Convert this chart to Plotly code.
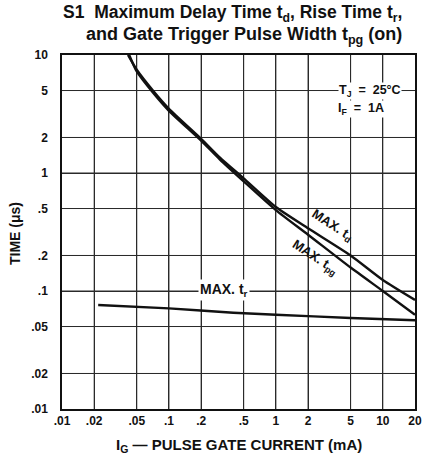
import plotly.graph_objects as go
import math

# ---- data ----
td_current = [0.0414, 0.05, 0.0708, 0.1, 0.2, 0.3, 0.5, 1, 2, 5, 10, 20]
td_time = [10, 7.5, 5, 3.5, 1.95, 1.35, 0.9, 0.515, 0.34, 0.2, 0.124, 0.084]

tpg_current = [0.0425, 0.05, 0.0708, 0.1, 0.2, 0.3, 0.5, 1, 2, 5, 10, 20]
tpg_time = [10, 7.25, 4.8, 3.36, 1.88, 1.3, 0.85, 0.485, 0.3, 0.158, 0.1, 0.063]

tr_current = [0.0218, 0.1, 0.4, 1, 5, 20]
tr_time = [0.076, 0.0713, 0.0655, 0.063, 0.059, 0.0565]

x_ticks = [0.01, 0.02, 0.05, 0.1, 0.2, 0.5, 1, 2, 5, 10, 20]
x_labels = [".01", ".02", ".05", ".1", ".2", ".5", "1", "2", "5", "10", "20"]
y_ticks = [0.01, 0.02, 0.05, 0.1, 0.2, 0.5, 1, 2, 5, 10]
y_labels = [".01", ".02", ".05", ".1", ".2", ".5", "1", "2", "5", "10"]

FONT = "Liberation Sans, Arial, Helvetica, sans-serif"
INK = "#111111"
GRID = "#2a2a2a"

fig = go.Figure()
for xs, ys in [(td_current, td_time), (tpg_current, tpg_time), (tr_current, tr_time)]:
    fig.add_trace(go.Scatter(x=xs, y=ys, mode="lines",
                             line=dict(color=INK, width=2.4, shape="spline", smoothing=0.6),
                             showlegend=False, hoverinfo="skip"))

axis_common = dict(type="log", showgrid=True, gridcolor=GRID, gridwidth=1,
                   showline=True, linecolor=INK, linewidth=1.5, mirror=True,
                   ticks="", ticklen=0, zeroline=False, automargin=False,
                   tickfont=dict(family=FONT, size=12, color=INK))

fig.update_xaxes(range=[-2, math.log10(20)], tickvals=x_ticks,
                 ticktext=["<b>%s</b>" % t for t in x_labels], **axis_common)
fig.update_yaxes(range=[-2, 1], tickvals=y_ticks,
                 ticktext=["<b>%s</b>" % t for t in y_labels], ticklabelstandoff=10, **axis_common)

# grid lines at the tick values
shapes = []
for v in x_ticks[1:-1]:
    shapes.append(dict(type="line", xref="x", yref="paper", x0=v, x1=v, y0=0, y1=1,
                       line=dict(color=GRID, width=1), layer="below"))
for v in y_ticks[1:-1]:
    shapes.append(dict(type="line", xref="paper", yref="y", x0=0, x1=1, y0=v, y1=v,
                       line=dict(color=GRID, width=1), layer="below"))

H = 354.0  # plot height in px, used to place title lines in paper units
ann = []
# title
ann.append(dict(xref="paper", yref="paper", x=0.969, y=1 + (55 - 13) / H, xanchor="right", yanchor="middle",
                showarrow=False,
                text="<b>S1  Maximum Delay Time t<sub>d</sub>, Rise Time t<sub>r</sub>,</b>",
                font=dict(family=FONT, size=17.5, color=INK)))
ann.append(dict(xref="paper", yref="paper", x=0.969, y=1 + (55 - 35) / H, xanchor="right", yanchor="middle",
                showarrow=False,
                text="<b>and Gate Trigger Pulse Width t<sub>pg</sub> (on)</b>",
                font=dict(family=FONT, size=18, color=INK)))
# axis titles
ann.append(dict(xref="paper", yref="paper", x=0.5, y=0, yshift=-36, xanchor="center", yanchor="middle",
                showarrow=False,
                text="<b>I<sub>G</sub> — PULSE GATE CURRENT (mA)</b>",
                font=dict(family=FONT, size=15, color=INK)))
ann.append(dict(xref="paper", yref="paper", x=0, y=0.5, xshift=-47, yshift=-2, xanchor="center", yanchor="middle",
                showarrow=False, textangle=-90,
                text="<b>TIME (\u03bcs)</b>",
                font=dict(family=FONT, size=14, color=INK)))
# curve labels
ann.append(dict(x=0.523, y=-0.449, xref="x", yref="y", showarrow=False, textangle=33,
                text="<b>MAX. t<sub>d</sub></b>", font=dict(family=FONT, size=13, color=INK)))
ann.append(dict(x=0.364, y=-0.72, xref="x", yref="y", showarrow=False, textangle=33,
                text="<b>MAX. t<sub>pg</sub></b>", font=dict(family=FONT, size=13, color=INK)))
ann.append(dict(x=-0.486, y=-0.99, xref="x", yref="y", showarrow=False, bgcolor="white",
                text="<b>MAX. t<sub>r</sub></b>", font=dict(family=FONT, size=14, color=INK)))
ann.append(dict(x=0.879, y=0.695, xref="x", yref="y", showarrow=False, bgcolor="white", borderpad=0,
                text="<b>T<sub>J</sub>\u00a0\u00a0=\u00a0\u00a025°C</b>", font=dict(family=FONT, size=12.5, color=INK)))
ann.append(dict(x=0.794, y=0.542, xref="x", yref="y", showarrow=False, bgcolor="white", borderpad=0,
                text="<b>I<sub>F</sub>\u00a0\u00a0=\u00a0\u00a01A</b>", font=dict(family=FONT, size=12.5, color=INK)))

fig.update_layout(width=422, height=459, margin=dict(l=62, r=7, t=55, b=50, autoexpand=False),
                  paper_bgcolor="white", plot_bgcolor="white", annotations=ann, shapes=shapes,
                  font=dict(family=FONT, color=INK))

fig.write_html("out.html", config={"displayModeBar": False},
               post_script="document.body.style.margin='0';document.body.style.padding='0';")
